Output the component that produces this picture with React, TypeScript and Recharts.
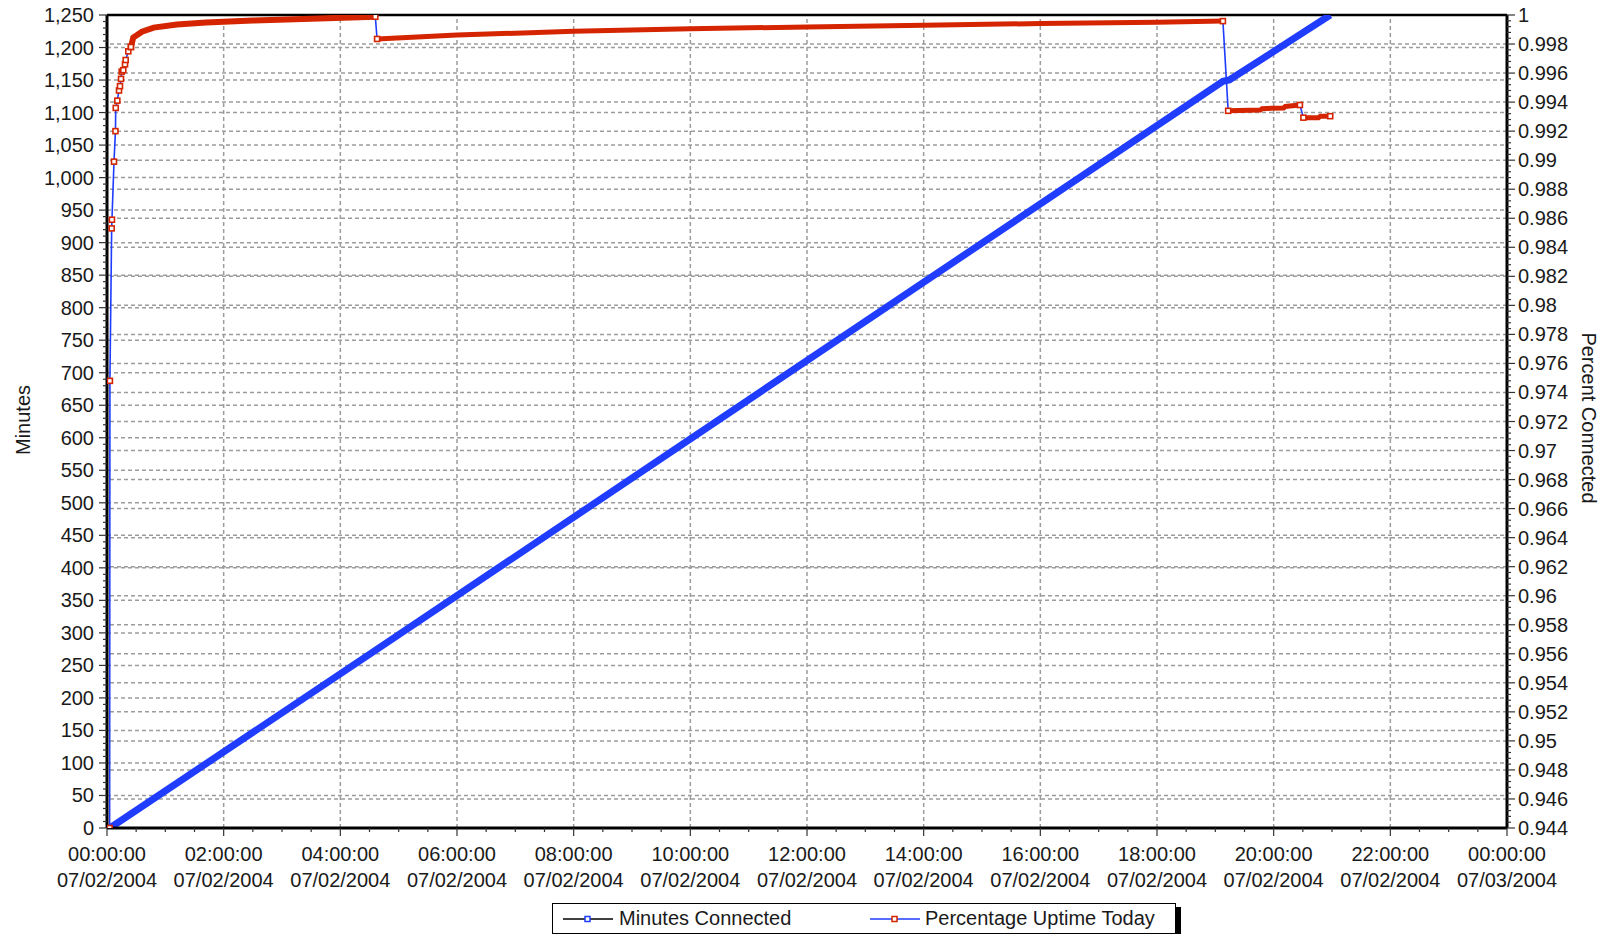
import React from 'react';
import { LineChart, Line, XAxis, YAxis, ReferenceLine } from 'recharts';

// x values are hours after 00:00:00 07/02/2004
const minutesHours = [0.05, 4.6, 19.13, 19.24, 20.97];
const minutesValues = [0, 273, 1148, 1150, 1250];

// percentage uptime: the steep start, drawn as separate markers
const riseHours = [0.045, 0.05, 0.08, 0.085, 0.12, 0.145, 0.15, 0.177, 0.206, 0.223, 0.24, 0.252, 0.279, 0.309, 0.32, 0.365, 0.41];
const riseValues = [0.944, 0.9748, 0.9853, 0.9859, 0.9899, 0.992, 0.9936, 0.9941, 0.9948, 0.9951, 0.9956, 0.9961, 0.9962, 0.9966, 0.9969, 0.9975, 0.9978];

// dense parts of the percentage series, between the drops
const bandAHours = [0.41, 0.45, 0.6, 0.8, 1.2, 1.7, 2.5, 3.5, 4.6];
const bandAValues = [0.9978, 0.99845, 0.99885, 0.99913, 0.99935, 0.99948, 0.99962, 0.99975, 0.99988];
const bandBHours = [4.63, 6, 8, 10, 12, 14, 16, 18, 19.13];
const bandBValues = [0.99835, 0.99862, 0.99888, 0.99905, 0.99918, 0.9993, 0.99941, 0.9995, 0.99958];
const bandCHours = [19.22, 19.77, 19.8, 20.17, 20.2, 20.45];
const bandCValues = [0.9934, 0.99345, 0.99355, 0.9936, 0.9937, 0.9938];
const bandDHours = [20.51, 20.77, 20.8, 20.97];
const bandDValues = [0.99293, 0.99293, 0.99303, 0.99303];

const leftTicks = [0, 50, 100, 150, 200, 250, 300, 350, 400, 450, 500, 550, 600, 650, 700, 750, 800, 850, 900, 950, 1000, 1050, 1100, 1150, 1200, 1250];
const rightTicks = [0.944, 0.946, 0.948, 0.95, 0.952, 0.954, 0.956, 0.958, 0.96, 0.962, 0.964, 0.966, 0.968, 0.97, 0.972, 0.974, 0.976, 0.978, 0.98, 0.982, 0.984, 0.986, 0.988, 0.99, 0.992, 0.994, 0.996, 0.998, 1];
const hourTicks = [0, 2, 4, 6, 8, 10, 12, 14, 16, 18, 20, 22, 24];
const timeLabels = ['00:00:00', '02:00:00', '04:00:00', '06:00:00', '08:00:00', '10:00:00', '12:00:00', '14:00:00', '16:00:00', '18:00:00', '20:00:00', '22:00:00', '00:00:00'];
const dateLabels = ['07/02/2004', '07/02/2004', '07/02/2004', '07/02/2004', '07/02/2004', '07/02/2004', '07/02/2004', '07/02/2004', '07/02/2004', '07/02/2004', '07/02/2004', '07/02/2004', '07/03/2004'];

const BLUE = '#1f3cff';
const RED = '#d42500';
const GRID = '#9c9c9c';
const FONT = "'Liberation Sans', Arial, sans-serif";
const TEXT = '#1a1a1a';

const pts = (hours: number[], values: number[]) => hours.map((t, i) => ({ t, v: values[i] }));

const minutesData = pts(minutesHours, minutesValues);
const bands = [pts(bandAHours, bandAValues), pts(bandBHours, bandBValues), pts(bandCHours, bandCValues), pts(bandDHours, bandDValues)];
const pctData = [...pts(riseHours, riseValues), ...bands.flat()];
const markerData = [...pts(riseHours, riseValues), ...bands.flatMap((b) => [b[0], b[b.length - 1]])];

// minor ticks between the labelled ones
const subdivide = (majors: number[], n: number) =>
  majors.flatMap((m, i) =>
    i === 0 ? [m] : Array.from({ length: n }, (_, k) => majors[i - 1] + ((m - majors[i - 1]) * (k + 1)) / n)
  );
const leftAll = subdivide(leftTicks, 5);
const rightAll = subdivide(rightTicks, 5);
const hourAll = subdivide(hourTicks, 4);

const findMajor = (majors: number[], v: number) => majors.findIndex((m) => Math.abs(m - v) < 1e-7);

const LeftTick = (props: any) => {
  const { x, y, payload } = props;
  const i = findMajor(leftTicks, payload.value);
  return (
    <g>
      <line x1={x - (i >= 0 ? 8 : 4)} x2={x} y1={y} y2={y} stroke="#333" strokeWidth={1.2} />
      {i >= 0 && (
        <text x={x - 13} y={y + 7} textAnchor="end" fontSize={20} fontFamily={FONT} fill={TEXT}>
          {leftTicks[i].toLocaleString('en-US')}
        </text>
      )}
    </g>
  );
};

const RightTick = (props: any) => {
  const { x, y, payload } = props;
  const i = findMajor(rightTicks, payload.value);
  return (
    <g>
      <line x1={x} x2={x + (i >= 0 ? 8 : 4)} y1={y} y2={y} stroke="#333" strokeWidth={1.2} />
      {i >= 0 && (
        <text x={x + 11} y={y + 7} textAnchor="start" fontSize={20} fontFamily={FONT} fill={TEXT}>
          {String(rightTicks[i])}
        </text>
      )}
    </g>
  );
};

const TimeTick = (props: any) => {
  const { x, y, payload } = props;
  const i = findMajor(hourTicks, payload.value);
  return (
    <g>
      <line x1={x} x2={x} y1={y} y2={y + (i >= 0 ? 8 : 4)} stroke="#333" strokeWidth={1.2} />
      {i >= 0 && (
        <text textAnchor="middle" fontSize={20} fontFamily={FONT} fill={TEXT}>
          <tspan x={x} y={y + 33}>{timeLabels[i]}</tspan>
          <tspan x={x} y={y + 59}>{dateLabels[i]}</tspan>
        </text>
      )}
    </g>
  );
};

const SquareDot = (props: any) => {
  const { cx, cy, index } = props;
  if (cx == null || cy == null) return <g key={index} />;
  return <rect key={index} x={cx - 2.5} y={cy - 2.5} width={5} height={5} fill="#fff" stroke={RED} strokeWidth={1.6} />;
};

const LegendMark = ({ line, marker }: { line: string; marker: string }) => (
  <svg width={50} height={10} style={{ display: 'block' }}>
    <line x1={0} x2={50} y1={5} y2={5} stroke={line} strokeWidth={1.5} />
    <rect x={22} y={2.5} width={5} height={5} fill="#fff" stroke={marker} strokeWidth={1.5} />
  </svg>
);

export default function App() {
  return (
    <div style={{ position: 'absolute', left: 0, top: 0, width: 1608, height: 934, overflow: 'hidden', fontFamily: FONT }}>
      <LineChart width={1608} height={934} margin={{ top: 15, right: 0, bottom: 0, left: 0 }}>
        <XAxis
          type="number"
          dataKey="t"
          domain={[0, 24]}
          ticks={hourAll}
          interval={0}
          tickSize={0}
          tickMargin={0}
          tickLine={false}
          tick={<TimeTick />}
          axisLine={{ stroke: '#000', strokeWidth: 3 }}
          height={106}
          allowDataOverflow
        />
        <YAxis
          yAxisId="left"
          domain={[0, 1250]}
          ticks={leftAll}
          interval={0}
          tickSize={0}
          tickMargin={0}
          tickLine={false}
          tick={<LeftTick />}
          axisLine={{ stroke: '#000', strokeWidth: 3 }}
          width={107}
          allowDataOverflow
        />
        <YAxis
          yAxisId="right"
          orientation="right"
          domain={[0.944, 1]}
          ticks={rightAll}
          interval={0}
          tickSize={0}
          tickMargin={0}
          tickLine={false}
          tick={<RightTick />}
          axisLine={{ stroke: '#000', strokeWidth: 3 }}
          width={101}
          allowDataOverflow
        />

        {leftTicks.map((v) => (
          <ReferenceLine key={'l' + v} yAxisId="left" y={v} stroke={GRID} strokeWidth={1.5} strokeDasharray="4 3" />
        ))}
        {rightTicks.map((v) => (
          <ReferenceLine key={'r' + v} yAxisId="right" y={v} stroke={GRID} strokeWidth={1.5} strokeDasharray="4 3" />
        ))}
        {hourTicks.slice(1, -1).map((h) => (
          <ReferenceLine key={'h' + h} yAxisId="left" x={h} stroke={GRID} strokeWidth={1.5} strokeDasharray="4 3" />
        ))}
        <ReferenceLine yAxisId="left" y={1250} stroke="#000" strokeWidth={2.5} />

        <Line yAxisId="left" data={minutesData} dataKey="v" name="Minutes Connected" stroke={BLUE} strokeWidth={7} dot={false} isAnimationActive={false} />
        <Line yAxisId="right" data={pctData} dataKey="v" name="Percentage Uptime Today" stroke={BLUE} strokeWidth={1.6} dot={false} isAnimationActive={false} />
        {bands.map((b, i) => (
          <Line key={'band' + i} yAxisId="right" data={b} dataKey="v" stroke={RED} strokeWidth={i === 0 ? 6 : 5} dot={false} isAnimationActive={false} />
        ))}
        <Line yAxisId="right" data={markerData} dataKey="v" stroke="none" dot={<SquareDot />} isAnimationActive={false} />
      </LineChart>

      <div style={{ position: 'absolute', left: 23, top: 420, transform: 'translate(-50%, -50%) rotate(-90deg)', fontSize: 20, color: TEXT, whiteSpace: 'nowrap' }}>
        Minutes
      </div>
      <div style={{ position: 'absolute', left: 1588, top: 418, transform: 'translate(-50%, -50%) rotate(90deg)', fontSize: 20, color: TEXT, whiteSpace: 'nowrap' }}>
        Percent Connected
      </div>

      <div
        style={{
          position: 'absolute', left: 552, top: 903, width: 622, height: 29, border: '1px solid #000',
          background: '#fff', boxShadow: '5px 4px 0 #000', fontSize: 20, color: TEXT,
        }}
      >
        <div style={{ position: 'absolute', left: 10, top: 10 }}><LegendMark line="#000" marker={BLUE} /></div>
        <div style={{ position: 'absolute', left: 66, top: 3, whiteSpace: 'nowrap' }}>Minutes Connected</div>
        <div style={{ position: 'absolute', left: 317, top: 10 }}><LegendMark line={BLUE} marker={RED} /></div>
        <div style={{ position: 'absolute', left: 372, top: 3, whiteSpace: 'nowrap' }}>Percentage Uptime Today</div>
      </div>
    </div>
  );
}
